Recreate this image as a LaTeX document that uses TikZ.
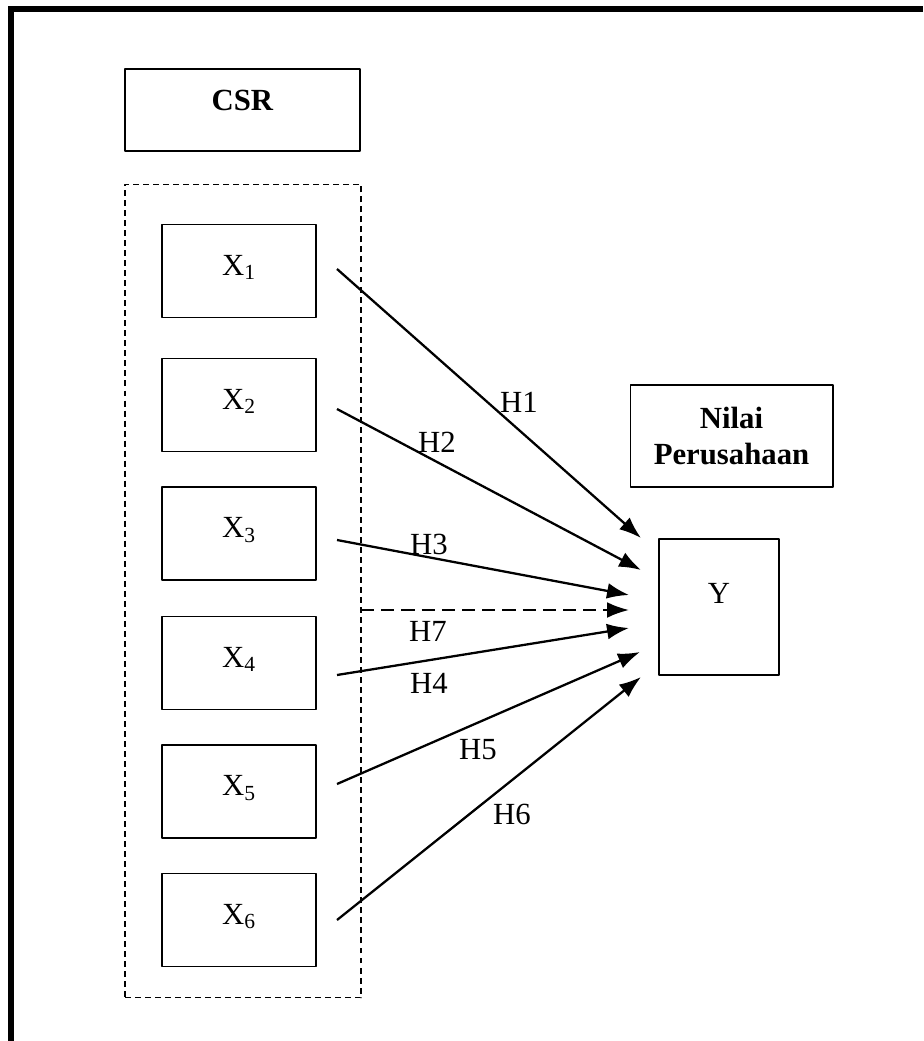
\documentclass[tikz,border=0pt]{standalone}
\usepackage{fontspec}
\setmainfont{Liberation Serif}
\usetikzlibrary{arrows.meta}
\begin{document}
\fontsize{17.5}{21}\selectfont
\begin{tikzpicture}[x=0.02cm, y=-0.02cm, line join=round, >={Latex[length=12.5pt,width=9pt]},
	box/.style={draw, line width=0.6pt, inner sep=0pt, align=center},
	xbox/.style={box, minimum width=3.08cm, minimum height=1.86cm, text depth=0.24cm},
	hyp/.style={->, line width=1.3pt}]
			\useasboundingbox (0,0) rectangle (923,1041);
			% frame
			\draw[line width=3.1pt, line join=miter] (11,1041) -- (11,9) -- (923,9);
			\path
			(337,269)coordinate(s1)
			(337,409)coordinate(s2)
			(337,540)coordinate(s3)
			(337,675)coordinate(s4)
			(337,784)coordinate(s5)
			(337,920)coordinate(s6)
			(641,538)coordinate(e1)
			(641,570)coordinate(e2)
			(629,595)coordinate(e3)
			(629,628)coordinate(e4)
			(640,652)coordinate(e5)
			(641,677)coordinate(e6)
			(361,610)coordinate(s7)
			(629,610)coordinate(e7)
			;
			\node[box, minimum width=4.7cm, minimum height=1.64cm, text depth=0.4cm] (csr) at (242.5,110) {\textbf{CSR}};
			\node[box, dash pattern=on 3.4pt off 2.3pt, minimum width=4.72cm, minimum height=16.28cm] (grp) at (243,591) {};
			\foreach \i/\y in {1/271,2/405,3/533.5,4/663,5/791.5,6/920}
				\node[xbox] (x\i) at (239,\y) {X\textsubscript{\i}};
			\node[box, minimum width=4.06cm, minimum height=2.04cm] (nilai) at (731.5,436) {\textbf{Nilai}\\\textbf{Perusahaan}};
			\node[box, minimum width=2.4cm, minimum height=2.72cm, text depth=0.56cm] (y) at (719,607) {Y};
			\foreach \i in {1,...,6}
				\draw[hyp] (s\i) -- (e\i);
			\draw[hyp, dash pattern=on 7.5pt off 4pt] (s7) -- (e7);
			\node (h1) at (519,402) {H1};
			\node (h2) at (437,442) {H2};
			\node (h3) at (429,544) {H3};
			\node (h7) at (428,631) {H7};
			\node (h4) at (429,683) {H4};
			\node (h5) at (478,750) {H5};
			\node (h6) at (512,814) {H6};
	\end{tikzpicture}
\end{document}
